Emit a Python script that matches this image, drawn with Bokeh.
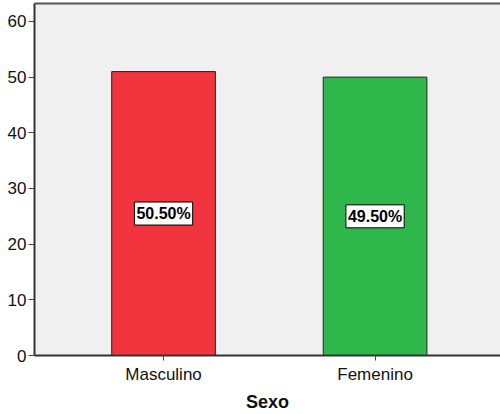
from bokeh.plotting import figure
from bokeh.models import ColumnDataSource, Range1d, FixedTicker, LinearAxis
from bokeh.core.properties import value
from bokeh.embed import file_html
from bokeh.resources import INLINE

# Frequency of respondents by sex
categories = ["Masculino", "Femenino"]
counts = [51, 50]
colors = ["#F2343F", "#2EB84B"]
y_ticks = [0, 10, 20, 30, 40, 50, 60]

total = sum(counts)
pct_labels = [f"{c / total * 100:.2f}%" for c in counts]
xs = list(range(len(categories)))

source = ColumnDataSource(dict(
    x=xs,
    top=counts,
    mid=[c / 2 for c in counts],
    color=colors,
    label=pct_labels,
))

p = figure(
    width=500, height=414,
    x_range=Range1d(-0.61, 1.593),
    y_range=Range1d(0, 63.23),
    output_backend="svg",
    toolbar_location=None,
    min_border_left=34, min_border_right=0,
    min_border_top=3, min_border_bottom=59,
)
p.background_fill_color = "#F0F0F0"
p.border_fill_color = "white"
p.outline_line_color = None
p.xgrid.grid_line_color = None
p.ygrid.grid_line_color = None

# x axis (bottom)
xa = p.below[0]
xa.ticker = FixedTicker(ticks=xs)
xa.major_label_overrides = {i: c for i, c in zip(xs, categories)}
xa.minor_tick_line_color = None
xa.major_tick_out = 5
xa.major_tick_in = 0
xa.major_tick_line_color = "#444444"
xa.axis_line_color = "#333333"
xa.axis_line_width = 2
xa.major_label_standoff = 4
xa.major_label_text_font = "Liberation Sans"
xa.major_label_text_font_size = "17px"
xa.major_label_text_color = "#111111"
xa.axis_label = "Sexo"
xa.axis_label_text_font = "Liberation Sans"
xa.axis_label_text_font_size = "18px"
xa.axis_label_text_font_style = "bold"
xa.axis_label_text_color = "#111111"
xa.axis_label_standoff = 5

# top frame line only (no right-hand border)
top_axis = LinearAxis(
    ticker=FixedTicker(ticks=[]),
    major_tick_out=0, major_tick_in=0, minor_tick_out=0, minor_tick_in=0,
    major_label_standoff=0,
    axis_line_color="#555555", axis_line_width=2,
)
p.add_layout(top_axis, "above")

p.vbar(x="x", top="top", width=0.49, bottom=0, source=source,
       fill_color="color", line_color="#222222", line_width=1)

# percentage labels in white boxes at mid-height of each bar
p.text(
    x="x", y="mid", text="label", source=source,
    text_align="center", text_baseline="middle",
    text_font=value("Liberation Sans"), text_font_size="16px", text_font_style="bold",
    text_color="black",
    background_fill_color="white", border_line_color="black", border_line_width=1,
    padding=dict(x=2, y=3),
)

# y axis
ya = p.left[0]
ya.ticker = FixedTicker(ticks=y_ticks)
ya.minor_tick_line_color = None
ya.major_tick_out = 6
ya.major_tick_in = 0
ya.major_tick_line_color = "#444444"
ya.axis_line_color = "#333333"
ya.axis_line_width = 2
ya.major_label_standoff = 2
ya.major_label_text_font = "Liberation Sans"
ya.major_label_text_font_size = "17px"
ya.major_label_text_color = "#111111"

open("out.html", "w").write(file_html(p, INLINE))
